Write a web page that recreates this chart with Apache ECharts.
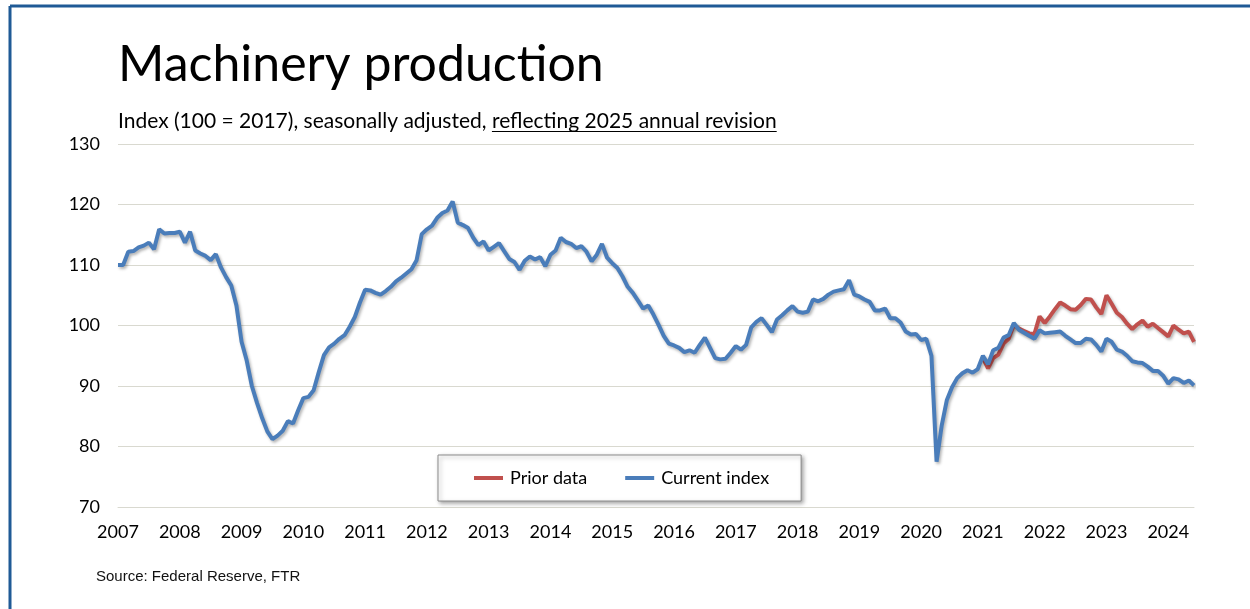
<!DOCTYPE html>
<html>
<head>
<meta charset="utf-8">
<script src="https://cdn.jsdelivr.net/npm/echarts@6/dist/echarts.min.js"></script>
<style>
  html, body { margin: 0; padding: 0; background: #ffffff; }
  #chart { width: 1250px; height: 609px; }
</style>
</head>
<body>
<div id="chart"></div>
<script>
// Year labels shown under the January of each year
const yearLabels = ['2007', '2008', '2009', '2010', '2011', '2012', '2013', '2014', '2015',
  '2016', '2017', '2018', '2019', '2020', '2021', '2022', '2023', '2024'];

// Machinery production index, monthly from January 2007 (current vintage)
const currentIndex = [
  110, 110, 112.2, 112.3, 112.9, 113.2, 113.7, 112.6, 115.9, 115.2, 115.3, 115.3,
  115.5, 113.7, 115.5, 112.4, 111.9, 111.5, 110.8, 111.8, 109.6, 108, 106.6, 103.3,
  97.3, 94.2, 90, 87.2, 84.7, 82.5, 81.2, 81.8, 82.6, 84.2, 83.8, 86,
  88, 88.2, 89.3, 92.3, 95.1, 96.4, 97, 97.8, 98.4, 99.8, 101.4, 103.8,
  105.9, 105.8, 105.4, 105.1, 105.7, 106.4, 107.3, 107.9, 108.6, 109.3, 110.8, 115.1,
  115.9, 116.5, 117.8, 118.6, 119, 120.5, 117, 116.6, 116.1, 114.5, 113.3, 113.9,
  112.4, 113, 113.6, 112.3, 111, 110.5, 109.2, 110.7, 111.4, 110.9, 111.3, 109.8,
  111.7, 112.4, 114.5, 113.8, 113.5, 112.8, 113.1, 112.2, 110.6, 111.7, 113.5, 111.2,
  110.3, 109.5, 108.1, 106.4, 105.4, 104.1, 102.8, 103.3, 101.8, 100.1, 98.3, 97,
  96.7, 96.3, 95.6, 95.9, 95.5, 96.8, 98, 96.3, 94.6, 94.4, 94.5, 95.5,
  96.6, 96, 96.8, 99.7, 100.6, 101.2, 100.1, 98.9, 101, 101.7, 102.5, 103.2,
  102.3, 102.1, 102.3, 104.3, 104, 104.4, 105.1, 105.6, 105.8, 106, 107.5, 105.1,
  104.8, 104.3, 103.9, 102.5, 102.5, 102.8, 101.2, 101.2, 100.5, 99, 98.5, 98.6,
  97.6, 97.8, 95, 77.5, 83.5, 87.7, 89.8, 91.3, 92.1, 92.6, 92.2, 92.8,
  95, 93.6, 95.9, 96.3, 98, 98.4, 100.4, 99.3, 98.8, 98.3, 97.8, 99.2,
  98.7, 98.8, 98.9, 99, 98.3, 97.7, 97.1, 97.1, 97.8, 97.7, 96.8, 95.7,
  97.8, 97.3, 96, 95.7, 95, 94.1, 93.9, 93.8, 93.2, 92.5, 92.5, 91.7,
  90.4, 91.3, 91.1, 90.5, 90.9, 90.1
];

// Prior vintage of the index, monthly from January 2021
const priorFrom = '2021-01';
const priorData = [
  94.6, 92.9, 94.6, 95.2, 97, 97.8, 100.1, 99.5, 99.1, 98.7, 98.6, 101.5,
  100.4, 101.5, 102.7, 103.8, 103.3, 102.7, 102.6, 103.4, 104.4, 104.3, 103, 101.9,
  105, 103.6, 102.1, 101.4, 100.3, 99.4, 100.2, 100.8, 99.8, 100.3, 99.6, 98.9,
  98.2, 100, 99.3, 98.7, 99, 97.3
];

// Monthly categories "YYYY-MM" starting at the first year label
const firstYear = Number(yearLabels[0]);
const months = currentIndex.map((_, i) =>
  (firstYear + Math.floor(i / 12)) + '-' + String(i % 12 + 1).padStart(2, '0'));
const priorStart = months.indexOf(priorFrom);
const priorSeries = months.map((_, i) =>
  i < priorStart ? null : (priorData[i - priorStart] ?? null));

const titleFont = '50px Lato';
const subFont = '21px Lato';
const subPlain = 'Index (100 = 2017), seasonally adjusted, ';
const subLink = 'reflecting 2025 annual revision';

// measure the subtitle pieces so the underline sits under the linked part
const ctx = document.createElement('canvas').getContext('2d');
ctx.font = subFont;
const plainW = ctx.measureText(subPlain).width;
const linkW = ctx.measureText(subLink).width;

const subX = 118, subY = 121;

const chart = echarts.init(document.getElementById('chart'), null, { renderer: 'canvas' });

chart.setOption({
  animation: false,
  backgroundColor: '#ffffff',
  grid: { left: 118, right: 56, top: 144, height: 363 },
  xAxis: {
    type: 'category',
    data: months,
    boundaryGap: false,
    axisLine: { show: true, lineStyle: { color: '#d9d9d0', width: 1 } },
    axisTick: { show: false },
    axisLabel: {
      interval: (idx, val) => val.endsWith('-01') && yearLabels.includes(val.slice(0, 4)),
      formatter: (val) => val.slice(0, 4),
      margin: 16,
      color: '#000',
      fontFamily: 'Lato',
      fontSize: 18
    },
    splitLine: { show: false }
  },
  yAxis: {
    type: 'value',
    min: 70,
    max: 130,
    interval: 10,
    axisLine: { show: false },
    axisTick: { show: false },
    axisLabel: { margin: 18, color: '#000', fontFamily: 'Lato', fontSize: 18 },
    splitLine: { lineStyle: { color: '#d9d9d0', width: 1 } }
  },
  legend: {
    left: 438,
    top: 455,
    orient: 'horizontal',
    icon: 'rect',
    itemWidth: 29,
    itemHeight: 4,
    itemGap: 38,
    padding: [14, 32, 14, 36],
    backgroundColor: '#ffffff',
    borderColor: '#8c8c8c',
    borderWidth: 1,
    shadowColor: 'rgba(0,0,0,0.35)',
    shadowBlur: 4,
    shadowOffsetX: 2,
    shadowOffsetY: 2,
    textStyle: { color: '#000', fontFamily: 'Lato', fontSize: 18, padding: [0, 0, 0, 2] },
    data: ['Prior data', 'Current index']
  },
  graphic: [
    { type: 'line', shape: { x1: 10, y1: 6, x2: 1250, y2: 6 },
      style: { stroke: '#1f5a96', lineWidth: 3 } },
    { type: 'line', shape: { x1: 10, y1: 6, x2: 10, y2: 609 },
      style: { stroke: '#1f5a96', lineWidth: 3 } },
    { type: 'text', x: 118, y: 65,
      style: { text: 'Machinery produc\u200Ction', font: titleFont, fill: '#000',
               align: 'left', verticalAlign: 'middle' } },
    { type: 'text', x: subX, y: subY,
      style: { text: subPlain + subLink, font: subFont, fill: '#000',
               align: 'left', verticalAlign: 'middle' } },
    { type: 'line',
      shape: { x1: subX + plainW, y1: subY + 10.5, x2: subX + plainW + linkW, y2: subY + 10.5 },
      style: { stroke: '#000', lineWidth: 1 } },
    { type: 'text', x: 96, y: 577,
      style: { text: 'Source: Federal Reserve, FTR', font: '15px "Liberation Sans"', fill: '#111',
               align: 'left', verticalAlign: 'middle' } }
  ],
  series: [
    {
      name: 'Prior data',
      type: 'line',
      data: priorSeries,
      showSymbol: false,
      symbol: 'none',
      connectNulls: false,
      itemStyle: { color: '#c0504d' },
      lineStyle: { color: '#c0504d', width: 4, shadowColor: 'rgba(0,0,0,0.3)',
                   shadowBlur: 3, shadowOffsetX: 1.5, shadowOffsetY: 2 },
      z: 2
    },
    {
      name: 'Current index',
      type: 'line',
      data: currentIndex,
      showSymbol: false,
      symbol: 'none',
      itemStyle: { color: '#4a7dba' },
      lineStyle: { color: '#4a7dba', width: 4, shadowColor: 'rgba(0,0,0,0.3)',
                   shadowBlur: 3, shadowOffsetX: 1.5, shadowOffsetY: 2 },
      z: 3
    }
  ]
});
</script>
</body>
</html>
